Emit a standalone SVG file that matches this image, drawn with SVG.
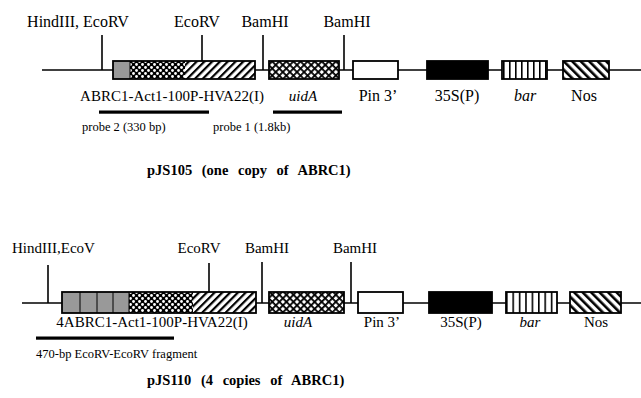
<svg xmlns="http://www.w3.org/2000/svg" width="641" height="398" viewBox="0 0 641 398">
<defs>
<pattern id="checker" width="6" height="6" patternUnits="userSpaceOnUse">
<rect width="6" height="6" fill="#000"/>
<circle cx="1.5" cy="1.5" r="1.4" fill="#fff"/>
<circle cx="4.5" cy="4.5" r="1.4" fill="#fff"/>
</pattern>
<pattern id="hatchR" width="5.5" height="5.5" patternUnits="userSpaceOnUse" patternTransform="rotate(45)">
<rect width="5.5" height="5.5" fill="#fff"/>
<rect width="2.2" height="5.5" fill="#000"/>
</pattern>
<pattern id="hatchL" width="6" height="6" patternUnits="userSpaceOnUse" patternTransform="rotate(-45)">
<rect width="6" height="6" fill="#fff"/>
<rect width="2.6" height="6" fill="#000"/>
</pattern>
<pattern id="cross" width="5" height="5" patternUnits="userSpaceOnUse" patternTransform="rotate(45)">
<rect width="5" height="5" fill="#fff"/>
<rect width="1.8" height="5" fill="#000"/>
<rect width="5" height="1.8" fill="#000"/>
</pattern>
<pattern id="vstripe1" x="503" width="6" height="10" patternUnits="userSpaceOnUse">
<rect width="6" height="10" fill="#fff"/>
<rect width="1.6" height="10" fill="#000"/>
</pattern>
<pattern id="vstripe2" x="506" width="6.4" height="10" patternUnits="userSpaceOnUse">
<rect width="6.4" height="10" fill="#fff"/>
<rect width="1.6" height="10" fill="#000"/>
</pattern>
</defs>
<style>
.bb{stroke:#000;stroke-width:1.6;fill:none}
.tick{stroke:#000;stroke-width:1.6}
.box{stroke:#000;stroke-width:1.8}
.thin{stroke:#000;stroke-width:1}
.bar{fill:#000}
text{font-family:"Liberation Serif","Times New Roman",serif;fill:#000}
.lab{font-size:16px}
.lab2{font-size:15px}
.mid{text-anchor:middle}
.it{font-style:italic}
.sm{font-size:12.5px}
.title{font-size:14.5px;font-weight:bold;word-spacing:6px}
</style>
<rect width="641" height="398" fill="#fff"/>

<g id="connectors">
<line class="bb" x1="42" y1="70" x2="641" y2="70"/>
<line class="tick" x1="102" y1="35" x2="102" y2="70"/>
<line class="tick" x1="202" y1="35" x2="202" y2="61"/>
<line class="tick" x1="263" y1="35" x2="263" y2="70"/>
<line class="tick" x1="344" y1="35" x2="344" y2="70"/>
<line class="bb" x1="22" y1="303" x2="641" y2="303"/>
<line class="tick" x1="48" y1="265" x2="48" y2="303"/>
<line class="tick" x1="209" y1="263" x2="209" y2="292"/>
<line class="tick" x1="262" y1="262" x2="262" y2="303"/>
<line class="tick" x1="351" y1="262" x2="351" y2="303"/>
</g>

<g id="pJS105">
<g id="site-hindiii-1"><text class="lab mid" x="78" y="27">HindIII, EcoRV</text></g>
<g id="site-ecorv-1"><text class="lab mid" x="197" y="27">EcoRV</text></g>
<g id="site-bamhi-1a"><text class="lab mid" x="265" y="27">BamHI</text></g>
<g id="site-bamhi-1b"><text class="lab mid" x="347" y="27">BamHI</text></g>
<g id="abrc1-1">
<rect x="113" y="61" width="17" height="18" fill="#999"/>
<rect x="130" y="61" width="55" height="18" fill="url(#checker)"/>
<rect x="185" y="61" width="70" height="18" fill="url(#hatchR)"/>
<line class="thin" x1="130" y1="61" x2="130" y2="79"/>
<rect class="box" x="113" y="61" width="142" height="18" fill="none"/>
<text class="lab2 mid" x="172" y="101">ABRC1-Act1-100P-HVA22(I)</text>
</g>
<g id="uida-1"><rect class="box" x="269" y="61" width="70" height="18" fill="url(#cross)"/><text class="lab2 mid it" x="303" y="101">uidA</text></g>
<g id="pin-1"><rect class="box" x="353" y="61" width="45" height="18" fill="#fff"/><text class="lab mid" x="378" y="101">Pin 3’</text></g>
<g id="p35s-1"><rect class="box" x="427" y="61" width="61" height="18" fill="#000"/><text class="lab mid" x="457" y="101">35S(P)</text></g>
<g id="bar-1"><rect class="box" x="502" y="61" width="45" height="18" fill="url(#vstripe1)"/><text class="lab mid it" x="525" y="101">bar</text></g>
<g id="nos-1"><rect class="box" x="563" y="61" width="46" height="18" fill="url(#hatchL)"/><text class="lab mid" x="584" y="101">Nos</text></g>
<g id="probe2"><rect class="bar" x="99" y="110.5" width="110" height="3.2"/><text class="sm" x="82" y="131">probe 2 (330 bp)</text></g>
<g id="probe1"><rect class="bar" x="273" y="110.5" width="69" height="3.2"/><text class="sm" x="213" y="131">probe 1 (1.8kb)</text></g>
<g id="title-1"><text class="title" x="147" y="175">pJS105 (one copy of ABRC1)</text></g>
</g>

<g id="pJS110">
<g id="site-hindiii-2"><text class="lab2" x="12" y="253">HindIII,EcoV</text></g>
<g id="site-ecorv-2"><text class="lab2 mid" x="199" y="253">EcoRV</text></g>
<g id="site-bamhi-2a"><text class="lab2 mid" x="267" y="253">BamHI</text></g>
<g id="site-bamhi-2b"><text class="lab2 mid" x="355" y="253">BamHI</text></g>
<g id="abrc1-2">
<rect x="62" y="292" width="67" height="21" fill="#999"/>
<rect x="129" y="292" width="64" height="21" fill="url(#checker)"/>
<rect x="193" y="292" width="63" height="21" fill="url(#hatchR)"/>
<line class="thin" x1="80" y1="292" x2="80" y2="313"/>
<line class="thin" x1="97" y1="292" x2="97" y2="313"/>
<line class="thin" x1="113" y1="292" x2="113" y2="313"/>
<line class="thin" x1="129" y1="292" x2="129" y2="313"/>
<rect class="box" x="62" y="292" width="194" height="21" fill="none"/>
<text class="lab2 mid" x="152" y="327">4ABRC1-Act1-100P-HVA22(I)</text>
</g>
<g id="uida-2"><rect class="box" x="269" y="292" width="75" height="21" fill="url(#cross)"/><text class="lab2 mid it" x="298" y="327">uidA</text></g>
<g id="pin-2"><rect class="box" x="358" y="292" width="45" height="21" fill="#fff"/><text class="lab2 mid" x="382" y="327">Pin 3’</text></g>
<g id="p35s-2"><rect class="box" x="429" y="292" width="63" height="21" fill="#000"/><text class="lab2 mid" x="461" y="327">35S(P)</text></g>
<g id="bar-2"><rect class="box" x="506" y="292" width="51" height="21" fill="url(#vstripe2)"/><text class="lab2 mid it" x="530" y="327">bar</text></g>
<g id="nos-2"><rect class="box" x="570" y="292" width="51" height="21" fill="url(#hatchL)"/><text class="lab2 mid" x="596" y="327">Nos</text></g>
<g id="fragment"><rect class="bar" x="36" y="336.5" width="138" height="3.2"/><text class="sm" x="36" y="358">470-bp EcoRV-EcoRV fragment</text></g>
<g id="title-2"><text class="title" x="147" y="385">pJS110 (4 copies of ABRC1)</text></g>
</g>
</svg>
